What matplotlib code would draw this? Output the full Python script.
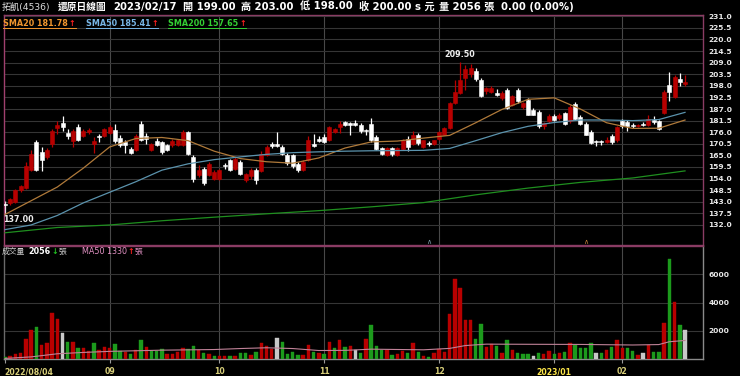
import matplotlib
matplotlib.use("Agg")
import matplotlib.pyplot as plt
from matplotlib.lines import Line2D
import numpy as np

# 拓凱(4536) daily bars, 2022/08/04 .. 2023/02/17 (還原日線)
opens = [
    142.0, 142.2, 143.0, 148.5, 149.5, 158.0, 171.3, 166.6, 164.2, 170.5,
    178.0, 180.2, 175.7, 172.0, 178.4, 174.4, 176.0, 170.5, 174.0, 174.4,
    175.5, 177.0, 173.3, 171.3, 168.2, 167.4, 180.0, 174.4, 167.7, 172.0,
    171.3, 169.7, 169.7, 169.7, 169.7, 176.0, 164.2, 155.6, 158.7, 155.6,
    154.0, 154.0, 160.5, 162.6, 158.7, 161.9, 153.2, 155.1, 158.2, 157.6,
    165.0, 170.5, 170.5, 169.0, 165.0, 165.0, 161.1, 158.0, 163.0, 170.5,
    172.9, 173.6, 172.4, 176.3, 178.4, 180.7, 180.2, 180.4, 179.3, 177.0,
    180.0, 173.7, 168.3, 165.2, 168.3, 165.2, 167.9, 173.0, 170.5, 174.9,
    169.0, 171.0, 170.5, 173.0, 174.9, 177.8, 189.8, 194.6, 201.6, 203.5,
    205.0, 200.8, 195.6, 195.3, 194.6, 192.2, 196.1, 189.0, 196.1, 187.8,
    191.4, 186.7, 185.6, 178.9, 181.2, 183.6, 182.8, 185.1, 181.2, 189.4,
    183.1, 180.0, 176.2, 171.8, 171.8, 171.3, 174.1, 172.1, 181.5, 181.0,
    179.6, 178.9, 180.0, 179.6, 181.8, 181.5, 185.1, 198.3, 192.5, 201.1,
    199.0]
highs = [
    143.5, 145.0, 149.0, 151.0, 162.0, 167.5, 172.5, 169.0, 168.5, 177.5,
    181.5, 183.9, 177.6, 177.5, 180.0, 177.5, 177.8, 173.5, 175.2, 178.0,
    179.2, 180.0, 174.5, 172.4, 169.0, 175.0, 181.5, 175.5, 171.0, 173.3,
    172.0, 170.5, 172.9, 173.0, 177.0, 176.5, 165.0, 160.5, 159.5, 161.9,
    158.0, 158.7, 161.4, 163.4, 164.2, 162.7, 156.7, 159.0, 159.0, 167.0,
    169.7, 171.5, 176.0, 170.0, 166.0, 165.8, 162.0, 163.0, 174.0, 175.2,
    174.4, 175.2, 179.0, 178.0, 181.5, 181.5, 181.0, 182.0, 180.4, 177.5,
    182.8, 174.5, 169.0, 169.0, 169.0, 169.0, 173.0, 174.0, 176.8, 175.5,
    172.5, 172.0, 172.5, 176.5, 178.5, 190.5, 200.8, 209.5, 208.0, 208.2,
    206.5, 201.5, 197.5, 198.0, 196.5, 195.5, 196.8, 193.5, 196.8, 190.5,
    192.0, 187.5, 186.5, 181.0, 184.5, 184.5, 185.0, 185.8, 189.0, 190.5,
    184.0, 181.0, 177.0, 172.5, 172.5, 173.5, 175.0, 179.0, 182.5, 182.0,
    180.4, 180.0, 181.0, 184.0, 183.5, 182.0, 196.0, 204.6, 203.0, 204.0,
    203.0]
lows = [
    137.0, 141.5, 142.5, 147.5, 149.0, 157.5, 157.5, 157.6, 163.5, 169.0,
    175.2, 176.5, 172.9, 169.0, 172.0, 173.5, 175.0, 166.0, 171.3, 173.5,
    175.0, 171.0, 169.0, 166.3, 165.5, 167.0, 172.0, 170.5, 167.0, 169.3,
    165.8, 167.0, 169.0, 169.3, 169.3, 165.0, 152.5, 154.8, 151.0, 155.0,
    153.2, 153.2, 158.7, 157.6, 158.0, 155.6, 152.5, 154.0, 151.3, 157.0,
    164.5, 168.5, 168.9, 165.0, 160.5, 159.0, 157.2, 157.5, 162.5, 169.0,
    171.5, 171.0, 172.0, 175.5, 175.5, 179.0, 174.9, 178.9, 175.7, 174.9,
    171.5, 167.5, 165.0, 164.5, 164.8, 164.5, 167.5, 167.0, 170.0, 170.0,
    168.5, 169.5, 170.0, 172.5, 174.5, 177.5, 189.5, 194.0, 196.0, 202.0,
    200.5, 192.5, 194.0, 194.5, 193.0, 191.5, 187.0, 188.5, 190.0, 187.0,
    184.0, 184.0, 178.0, 177.5, 180.5, 181.5, 182.0, 179.5, 180.5, 182.0,
    179.5, 174.5, 170.5, 169.5, 170.0, 171.0, 170.5, 171.5, 178.0, 176.5,
    178.0, 178.5, 179.0, 179.0, 180.0, 177.0, 184.5, 191.0, 192.0, 198.0,
    198.0]
closes = [
    141.5, 144.1, 148.5, 150.4, 159.8, 165.8, 158.0, 163.0, 167.7, 176.5,
    179.6, 178.7, 174.1, 176.5, 172.4, 176.8, 177.1, 172.0, 173.7, 177.6,
    178.4, 172.0, 169.7, 169.7, 166.1, 174.4, 172.4, 172.9, 170.5, 169.7,
    166.6, 167.7, 172.0, 172.4, 176.3, 165.5, 154.0, 158.0, 151.7, 161.1,
    157.2, 158.0, 160.1, 158.3, 163.4, 156.4, 156.0, 158.2, 153.2, 165.8,
    168.9, 169.5, 169.4, 165.8, 161.4, 159.8, 158.0, 161.9, 172.4, 169.4,
    171.8, 171.3, 178.4, 177.6, 179.9, 179.3, 179.3, 179.3, 176.5, 176.5,
    172.1, 167.9, 165.5, 168.3, 165.5, 168.3, 172.1, 169.0, 174.9, 171.0,
    172.1, 170.2, 172.1, 176.2, 177.8, 189.8, 195.3, 200.8, 206.0, 206.4,
    201.3, 193.0, 196.9, 197.2, 193.5, 194.6, 187.5, 193.0, 190.6, 189.8,
    184.3, 184.3, 178.9, 180.4, 183.6, 182.0, 184.0, 180.0, 187.8, 182.5,
    180.0, 174.9, 171.0, 171.3, 171.2, 172.5, 171.5, 178.4, 178.9, 178.9,
    178.9, 179.6, 179.3, 182.3, 180.7, 177.3, 195.2, 194.9, 202.0, 200.0,
    200.0]

# volume in 張, and day-over-day direction (1 up, -1 down, 0 flat)
volumes = [
    150, 230, 370, 460, 1450, 2070, 2250, 1000, 1170, 3300,
    2850, 1880, 1240, 1240, 810, 810, 580, 1120, 650, 840,
    810, 1080, 600, 530, 370, 650, 1360, 890, 600, 560,
    720, 370, 370, 490, 770, 700, 930, 650, 420, 370,
    250, 250, 250, 250, 250, 420, 420, 300, 530, 1120,
    930, 720, 1480, 1190, 370, 490, 300, 300, 1000, 490,
    420, 340, 1240, 810, 1360, 890, 930, 650, 420, 1420,
    2420, 930, 650, 650, 300, 370, 600, 420, 1120, 530,
    230, 180, 420, 700, 530, 3200, 5650, 5010, 2780, 2780,
    1430, 2490, 890, 1050, 930, 420, 1360, 650, 420, 370,
    370, 230, 420, 340, 580, 340, 420, 530, 1170, 1000,
    770, 770, 1170, 460, 460, 650, 840, 1360, 770, 770,
    580, 300, 420, 1000, 530, 490, 2540, 7070, 4030, 2420,
    2056]
vol_dir = [
    -1, 1, 1, 1, 1, 1, -1, 1, 1, 1,
    1, 0, -1, 1, -1, 1, 1, -1, 1, 1,
    1, -1, -1, 1, -1, 1, -1, 1, -1, -1,
    -1, 1, 1, 1, 1, -1, -1, 1, -1, 1,
    -1, 1, 1, -1, 1, -1, -1, 1, -1, 1,
    1, 1, 0, -1, -1, -1, -1, 1, 1, -1,
    1, -1, 1, -1, 1, -1, 1, 0, -1, 1,
    -1, -1, -1, 1, -1, 1, 1, -1, 1, -1,
    1, -1, 1, 1, 1, 1, 1, 1, 1, 1,
    -1, -1, 1, 1, -1, 1, -1, 1, -1, -1,
    -1, 0, -1, 1, 1, -1, 1, -1, 1, -1,
    -1, -1, -1, 0, -1, 1, -1, 1, 1, -1,
    -1, 1, 0, 1, -1, -1, 1, -1, 1, -1,
    0]

# moving averages (bar index, value)
sma20_idx = [0, 5, 10, 15, 20, 25, 30, 35, 40, 45, 50, 55, 60, 65, 70,
             75, 80, 85, 90, 95, 100, 105, 110, 115, 120, 125, 130]
sma20_val = [137.0, 143.5, 150.0, 159.0, 169.0, 173.0, 173.5, 172.0, 167.0,
             163.5, 162.0, 161.3, 163.8, 168.5, 171.4, 171.8, 173.2, 174.5,
             180.5, 186.8, 191.6, 192.3, 187.0, 180.5, 177.8, 177.9, 181.78]
sma50_idx = sma20_idx
sma50_val = [129.8, 132.0, 136.5, 142.5, 147.5, 152.5, 158.0, 161.0, 163.0,
             164.3, 165.5, 166.3, 166.7, 167.0, 167.2, 167.3, 167.4, 168.3,
             172.0, 175.8, 178.8, 180.6, 181.8, 181.8, 181.5, 182.0, 185.41]
sma200_idx = [0, 10, 20, 30, 40, 50, 60, 70, 80, 90, 100, 110, 120, 130]
sma200_val = [128.3, 130.8, 132.0, 134.0, 135.7, 137.3, 138.8, 140.6, 142.6,
              146.3, 149.5, 152.2, 154.3, 157.65]
volma_idx = [0, 5, 10, 15, 20, 30, 40, 45, 50, 55, 60, 65, 70, 80, 85, 88,
             92, 100, 110, 120, 125, 127, 130]
volma_val = [60, 170, 390, 485, 560, 645, 690, 760, 815, 760, 620, 630, 715,
             670, 770, 970, 1070, 1060, 1050, 1010, 1040, 1240, 1330]

month_idx = [0, 20, 41, 61, 83, 105, 118]
month_labels = ["2022/08/04", "09", "10", "11", "12", "2023/01", "02"]
price_ticks = [132.0, 137.5, 143.0, 148.5, 154.0, 159.5, 165.0, 170.5, 176.0,
               181.5, 187.0, 192.5, 198.0, 203.5, 209.0, 214.5, 220.0, 225.5,
               231.0]
vol_ticks = [2000, 4000, 6000]
event_idx = [81, 111]

# ---------------------------------------------------------------------------
W, H = 740, 376
FAM = ["DejaVu Sans", "Noto Sans CJK TC"]
RED, GREEN, GREY = "#b80000", "#1c9a1c", "#c8c8c8"
C20, C50, C200 = "#b07a3a", "#5b93ad", "#1f8f1f"

fig = plt.figure(figsize=(W / 100, H / 100), dpi=100, facecolor="black")


def px_axes(x0, y0, x1, y1):
    return fig.add_axes([x0 / W, 1 - y1 / H, (x1 - x0) / W, (y1 - y0) / H])


ax_p = px_axes(4, 15, 703, 245)
ax_v = px_axes(4, 246, 703, 359.3)
n = len(closes)
x = np.arange(n)
o, h, l, c = map(np.array, (opens, highs, lows, closes))

for ax in (ax_p, ax_v):
    ax.set_facecolor("black")
    ax.set_xlim(-0.19, 133.44)
    for m in month_idx[1:]:
        ax.axvline(m, color="#484848", lw=0.8, zorder=0)

# price panel
ax_p.set_ylim(122.5, 231.6)
for t in price_ticks:
    ax_p.axhline(t, color="#353535", lw=0.8, zorder=0)
up = c > o
body_lo = np.minimum(o, c)
body_h = np.maximum(np.abs(c - o), 0.35)
ccol = np.where(up, RED, "white")
ax_p.vlines(x, l, h, colors=ccol, lw=0.9, zorder=2)
ax_p.bar(x, body_h, bottom=body_lo, width=0.76, color=ccol, edgecolor=ccol,
         lw=0.4, zorder=3)
ax_p.plot(sma20_idx, sma20_val, color=C20, lw=0.9, zorder=4)
ax_p.plot(sma50_idx, sma50_val, color=C50, lw=0.9, zorder=4)
ax_p.plot(sma200_idx, sma200_val, color=C200, lw=0.9, zorder=4)

hi_i, lo_i = int(np.argmax(h)), int(np.argmin(l))
ax_p.annotate(f"{h[hi_i]:.2f}", (hi_i, h[hi_i]), xytext=(0, 2),
              textcoords="offset points", ha="center", va="bottom",
              color="#eeeeee", fontsize=5.8, fontweight="bold")
ax_p.annotate(f"{l[lo_i]:.2f}", (lo_i, l[lo_i]), xytext=(-1, -0.5),
              textcoords="offset points", ha="left", va="top",
              color="#eeeeee", fontsize=5.8, fontweight="bold")
for k, e in enumerate(event_idx):
    ax_p.text(e, 122.5, "∧", color=["#7f9fae", "#c8803a"][k], fontsize=5,
              ha="center", va="bottom")

ax_p.yaxis.tick_right()
ax_p.set_yticks(price_ticks)
ax_p.set_yticklabels([f"{t:.1f}" for t in price_ticks])
ax_p.tick_params(axis="y", length=0, pad=4, labelsize=5.4, labelcolor="#e8e8e8")
ax_p.set_xticks([])
for lab in ax_p.get_yticklabels():
    lab.set_fontweight("bold")
for side, col in (("top", "#8a3c64"), ("bottom", "#8a3c64"),
                  ("left", "#a0406e"), ("right", "#8a3c64")):
    ax_p.spines[side].set_color(col)
    ax_p.spines[side].set_linewidth(1.0)

# volume panel
ax_v.set_ylim(0, 8000)
for t in vol_ticks:
    ax_v.axhline(t, color="#353535", lw=0.8, zorder=0)
vd = np.array(vol_dir)
vcol = np.where(vd > 0, RED, np.where(vd < 0, GREEN, GREY))
ax_v.bar(x, volumes, width=0.66, color=vcol, edgecolor=vcol, lw=0.3, zorder=3)
ax_v.plot(volma_idx, volma_val, color="#c08298", lw=0.8, zorder=4)
ax_v.yaxis.tick_right()
ax_v.set_yticks(vol_ticks)
ax_v.set_yticklabels([str(t) for t in vol_ticks])
ax_v.tick_params(axis="y", length=0, pad=4, labelsize=5.4, labelcolor="#e8e8e8")
for lab in ax_v.get_yticklabels():
    lab.set_fontweight("bold")
ax_v.set_xticks(month_idx)
ax_v.set_xticklabels([""] * len(month_idx))
ax_v.tick_params(axis="x", length=3, width=0.8, color="#9a9a9a")
for k, (m, s) in enumerate(zip(month_idx, month_labels)):
    ax_v.text(m - 0.2 if k == 0 else m, -0.07, s, transform=ax_v.get_xaxis_transform(),
              ha="left" if k == 0 else "center", va="top", fontsize=5.6,
              fontweight="bold", color="#ffe84a" if "/" in s and k else "#d8cf7a")
for side, col in (("top", "#8a3c64"), ("bottom", "#8a8a8a"),
                  ("left", "#6a6a6a"), ("right", "#8a8a8a")):
    ax_v.spines[side].set_color(col)
    ax_v.spines[side].set_linewidth(1.0)

# header rows
rend = fig.canvas.get_renderer()


def text_row(x0, y, pieces):
    xs = []
    for s, col, size, weight, gap in pieces:
        t = fig.text(x0 / W, 1 - y / H, s, color=col, fontsize=size,
                     fontweight=weight, family=FAM, va="center", ha="left")
        bb = t.get_window_extent(renderer=rend)
        xs.append((bb.x0, bb.x1))
        x0 = bb.x1 + gap
    return xs


chg = c[-1] - c[-2]
text_row(2, 7, [
    ("拓凱(4536)", "#dddddd", 6.6, "normal", 7),
    ("還原日線圖", "white", 7.0, "bold", 7),
    ("2023/02/17", "white", 7.3, "bold", 6),
    (f"開 {o[-1]:.2f}", "white", 7.3, "bold", 6),
    (f"高 {h[-1]:.2f}", "white", 7.3, "bold", 6),
    (f"低 {l[-1]:.2f}", "white", 7.3, "bold", 6),
    (f"收 {c[-1]:.2f} s 元", "white", 7.3, "bold", 5),
    (f"量 {volumes[-1]} 張", "white", 7.3, "bold", 6),
    (f"{chg:.2f} ({chg / c[-2] * 100:.2f}%)", "white", 7.3, "bold", 0),
])

legend = [("SMA20", sma20_val[-1], "#f0962e"), ("SMA50", sma50_val[-1], "#78b6e6"),
          ("SMA200", sma200_val[-1], "#33d033")]
lx = 3
for name, val, col in legend:
    xs = text_row(lx, 23.5, [(f"{name} {val:.2f}", col, 5.8, "bold", 1),
                             ("↑", "#ff2020", 5.8, "bold", 0)])
    fig.add_artist(Line2D([xs[0][0] / W, xs[-1][1] / W], [1 - 28 / H] * 2,
                          color=col, lw=0.7))
    lx = xs[-1][1] + 10

text_row(2, 251, [("成交量", "#cfcfcf", 5.6, "normal", 3),
                  (str(volumes[-1]), "white", 5.8, "bold", 1),
                  ("↓", "#22c022", 5.8, "bold", 0),
                  ("張", "#cfcfcf", 5.6, "normal", 16),
                  (f"MA50 {volma_val[-1]}", "#e292c4", 5.8, "normal", 1),
                  ("↑", "#ff2020", 5.8, "bold", 0),
                  ("張", "#e292c4", 5.6, "normal", 0)])

fig.savefig("out.png", dpi=100, facecolor="black")
